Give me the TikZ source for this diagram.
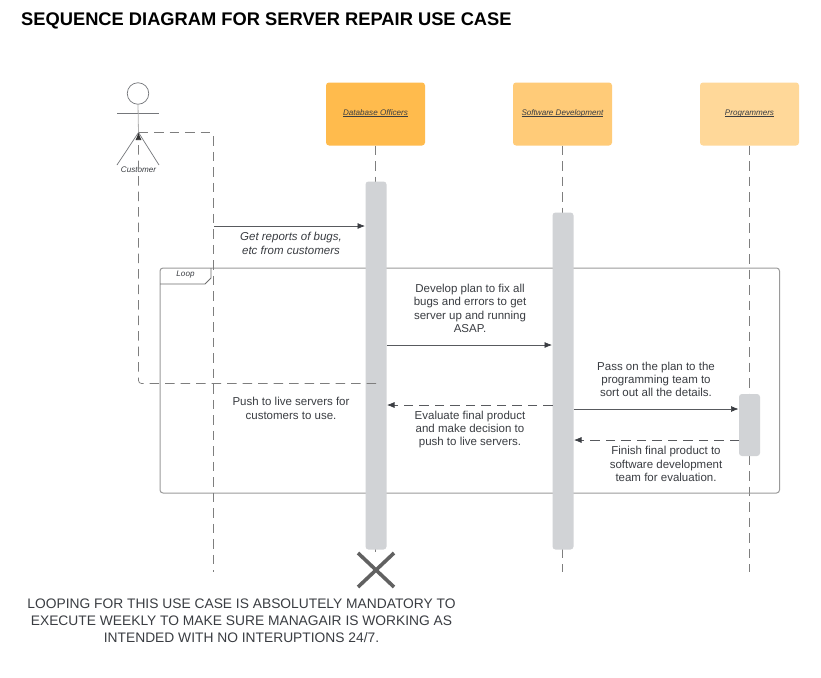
\documentclass[tikz,border=0pt]{standalone}
\usepackage{fontspec}
\setmainfont{Liberation Sans}
\usetikzlibrary{arrows.meta,shapes.misc}
\definecolor{ink}{HTML}{3A3D42}
\definecolor{dashc}{HTML}{7E7E7E}
\definecolor{barc}{HTML}{D1D3D6}
\definecolor{frm}{HTML}{6E6E6E}
\newcommand\ulabel[1]{\setbox0\hbox{#1}\rlap{\smash{\rule[-1.1pt]{\wd0}{.45pt}}}\box0}
\tikzset{
  x=1pt,y=-1pt,
  head/.style={draw=none,rounded corners=3pt,minimum width=99pt,minimum height=63pt,inner sep=0pt,text height=6pt,text depth=3pt,font=\fontsize{8.1}{9}\selectfont\itshape,text=ink},
  bar/.style={fill=barc,draw=none,rounded corners=3pt},
  life/.style={draw=dashc,line width=.7pt,dash pattern=on 9.5pt off 6pt},
  msg/.style={draw=ink!85,line width=.7pt,-{Latex[length=7.5pt,width=6pt,ink]}},
  msgd/.style={draw=ink!85,line width=.7pt,dash pattern=on 9.5pt off 6pt,-{Latex[length=7.5pt,width=6pt,ink]}},
  lbl/.style={align=center,inner sep=0pt,font=\fontsize{11.5}{13.3}\selectfont,text=ink},
}
\begin{document}
\begin{tikzpicture}
\useasboundingbox (0,0) rectangle (821,677);
\fill[white] (0,0) rectangle (821,677);
\node[anchor=west,inner sep=0pt,font=\fontsize{18.3}{20}\selectfont\bfseries] (title) at (21,21) {SEQUENCE DIAGRAM FOR SERVER REPAIR USE CASE};
% heads
\node[head,fill={rgb,255:red,255;green,187;blue,77}] (db) at (375.5,114) {\ulabel{Database Officers}};
\node[head,fill={rgb,255:red,255;green,203;blue,120}] (sw) at (562.5,114) {\ulabel{Software Development}};
\node[head,fill={rgb,255:red,255;green,216;blue,153}] (pr) at (749.5,114) {\ulabel{Programmers}};
% lifelines
\coordinate (dbEnd) at (375.5,552);
\coordinate (swEnd) at (562.5,572);
\coordinate (prEnd) at (749.5,572);
\draw[life] (db.south) -- (dbEnd);
\draw[life] (sw.south) -- (swEnd);
\draw[life] (pr.south) -- (prEnd);
% frame
\draw[frm!70,line width=1pt,rounded corners=3pt] (160,268) rectangle (779.5,493);
\draw[frm,line width=.8pt] (160,284) -- (205,284) -- (211,278) -- (211,268);
\node[inner sep=0pt,font=\fontsize{8.1}{9}\selectfont\itshape,text=ink] (loop) at (185.5,274.5) {Loop};
% bars
\path[bar] (365.5,181.5) rectangle (386.5,549.5);
\path[bar] (552.5,212.5) rectangle (573.5,549.5);
\path[bar] (739,394) rectangle (760,456);
% actor
\node[circle,draw=ink!70,line width=.7pt,minimum size=21.5pt,inner sep=0pt] (head) at (138,93.5) {};
\coordinate (armL) at (117,113.5);
\coordinate (armR) at (159,113.5);
\coordinate (legL) at (117,165);
\coordinate (legR) at (159,165);
\coordinate (hip) at (138.5,132.5);
\draw[ink!70,line width=.7pt] (armL) -- (armR);
\draw[ink!70,line width=.7pt] (legL) -- (hip) -- (legR);
\draw[dashc!60,line width=.8pt] (head.south) -- (hip);
\node[inner sep=0pt,font=\fontsize{8.1}{9}\selectfont\itshape,text=ink] (cust) at (138.5,169.5) {Customer};
% actor lifeline and external lifeline
\coordinate (retA) at (376,383.5);
\coordinate (retB) at (138.5,383.5);
\coordinate (topB) at (213.5,132.5);
\coordinate (botB) at (213.5,572);
\draw[dashc,line width=.7pt,dash pattern=on 9.5pt off 6pt,rounded corners=3pt,-{Latex[length=7.5pt,width=6pt,black!80]}] (retA) -- (retB) -- (hip);
\draw[life,rounded corners=3pt] (hip) -- (topB) -- (botB);
% messages
\draw[msg] (214,226) -- (365,226);
\draw[msg] (386.5,345) -- (552,345);
\draw[msg] (573.5,409) -- (738.5,409);
\draw[msgd] (739,440) -- (574,440);
\draw[msgd] (552.5,405) -- (387,405);
% labels
\node[lbl,font=\fontsize{11.5}{13.3}\selectfont\itshape] (m1) at (291,243.5) {Get reports of bugs,\\etc from customers};
\node[lbl] (m2) at (470,308.5) {Develop plan to fix all\\bugs and errors to get\\server up and running\\ASAP.};
\node[lbl] (m3) at (656,379.5) {Pass on the plan to the\\programming team to\\sort out all the details.};
\node[lbl] (m4) at (291,408.5) {Push to live servers for\\customers to use.};
\node[lbl] (m5) at (470,429.5) {Evaluate final product\\and make decision to\\push to live servers.};
\node[lbl] (m6) at (666,464) {Finish final product to\\software development\\team for evaluation.};
% destroy
\coordinate (xa) at (358,553); \coordinate (xb) at (394,587);
\coordinate (xc) at (394,553); \coordinate (xd) at (358,587);
\draw[black!62,line width=3.6pt] (xa) -- (xb);
\draw[black!62,line width=3.6pt] (xc) -- (xd);
% note
\node[align=center,inner sep=0pt,font=\fontsize{13.8}{16.8}\selectfont,text=ink] (note) at (241.5,620.5) {LOOPING FOR THIS USE CASE IS ABSOLUTELY MANDATORY TO\\EXECUTE WEEKLY TO MAKE SURE MANAGAIR IS WORKING AS\\INTENDED WITH NO INTERUPTIONS 24/7.};
\end{tikzpicture}
\end{document}
